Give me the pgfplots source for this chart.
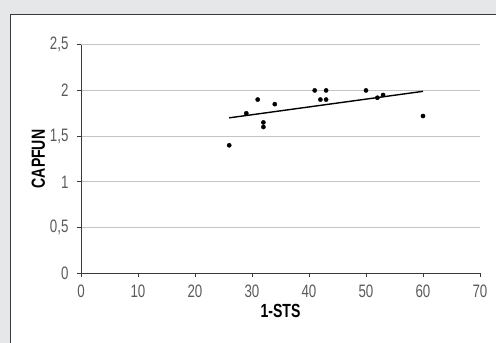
\documentclass[border=0pt]{standalone}
\usepackage{fontspec}
\setmainfont{Liberation Sans}[FakeStretch=0.74]
\usepackage{pgfplots}
\pgfplotsset{compat=1.18}
\definecolor{bg}{HTML}{E6E7E8}
\definecolor{frame}{HTML}{3A3A3A}
\definecolor{gridc}{HTML}{C4C4C4}
\definecolor{tickc}{HTML}{5A5A5A}
\begin{document}
\begin{tikzpicture}[x=1pt,y=1pt]
\useasboundingbox (0,0) rectangle (496,343);
\begin{scope}
\clip (0,0) rectangle (496,343);
\fill[bg] (0,0) rectangle (496,343);
\draw[frame, line width=1.2pt, fill=white] (10.5,328.5) rectangle (520,-20);
\end{scope}
\begin{axis}[
  at={(81pt,69.7pt)}, anchor=origin,
  scale only axis, width=399pt, height=228.6pt,
  xmin=0, xmax=70, ymin=0, ymax=2.5,
  xtick={0,10,...,70}, ytick={0,0.5,1,1.5,2,2.5},
  axis x line*=bottom, axis y line*=left,
  axis line style={frame, line width=0.9pt, -},
  ymajorgrids, grid style={gridc, line width=0.9pt},
  tick style={frame, line width=0.9pt},
  tick align=outside, major tick length=4pt,
  /pgf/number format/use comma,
  /pgf/number format/assume math mode=true,
  every tick label/.append style={font=\fontsize{18}{20}\selectfont, text=tickc},
  xticklabel style={yshift=-4pt},
  yticklabel style={xshift=-5pt},
  xlabel={\textbf{1-STS}}, ylabel={\textbf{CAPFUN}},
  every axis label/.append style={font=\fontsize{19}{21}\selectfont, text=black},
  xlabel style={yshift=0pt},
  ylabel style={yshift=-2pt},
  clip=false,
]
\addplot[only marks, mark=*, mark size=2.1pt, black] coordinates {
(26,1.40) (29,1.75) (31,1.90) (32,1.65) (32,1.60) (34,1.85)
(41,2.00) (42,1.90) (43,2.00) (43,1.90) (50,2.00) (52,1.92)
(53,1.95) (60,1.72)
};
\addplot[black, line width=1.4pt] coordinates {(26,1.70) (60,1.99)};
\end{axis}
\end{tikzpicture}
\end{document}
